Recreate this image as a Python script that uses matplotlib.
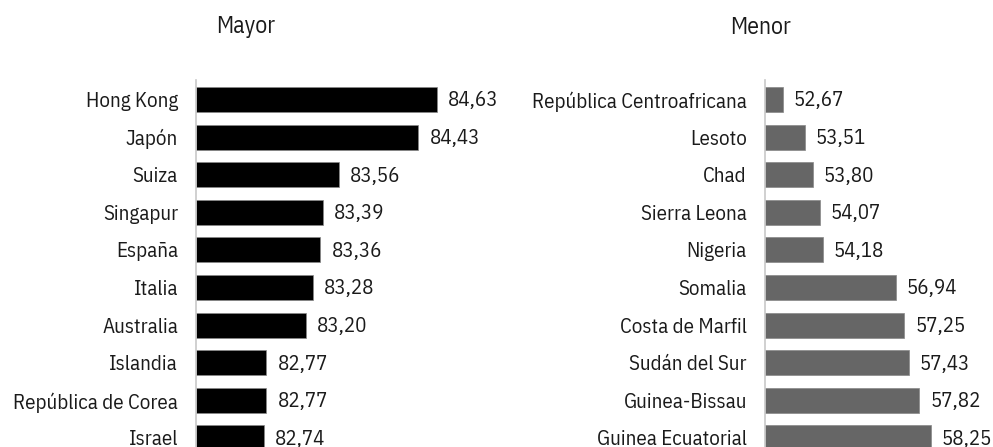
import matplotlib
matplotlib.use("Agg")
import matplotlib.pyplot as plt

plt.rcParams['font.family'] = ['IBM Plex Sans Condensed', 'DejaVu Sans']

mayor_paises = ["Hong Kong", "Japón", "Suiza", "Singapur", "España", "Italia",
                "Australia", "Islandia", "República de Corea", "Israel"]
mayor_valores = [84.63, 84.43, 83.56, 83.39, 83.36, 83.28, 83.20, 82.77, 82.77, 82.74]

menor_paises = ["República Centroafricana", "Lesoto", "Chad", "Sierra Leona", "Nigeria",
                "Somalia", "Costa de Marfil", "Sudán del Sur", "Guinea-Bissau",
                "Guinea Ecuatorial"]
menor_valores = [52.67, 53.51, 53.80, 54.07, 54.18, 56.94, 57.25, 57.43, 57.82, 58.25]

W, H = 993, 447
fig = plt.figure(figsize=(W / 100, H / 100), dpi=100)

txt = '#1a1a1a'
fs = 15


def panel(left_px, width_px, xlim, paises, valores, color, titulo, titulo_x):
    ax = fig.add_axes([left_px / W, 0, width_px / W, (H - 80) / H])
    y = range(len(paises))
    ax.barh(y, [v - xlim[0] for v in valores], left=xlim[0], height=0.665,
            color=color, edgecolor='#888888', linewidth=0.5)
    for i, v in enumerate(valores):
        ax.annotate(f"{v:.2f}".replace('.', ','), (v, i), xytext=(8, -1),
                    textcoords='offset points', va='center', ha='left',
                    fontsize=fs, color=txt)
    ax.set_xlim(*xlim)
    ax.set_ylim(len(paises) - 1 + 0.24, -0.52)
    ax.set_yticks(list(y))
    ax.set_yticklabels(paises, fontsize=fs, color=txt)
    ax.tick_params(axis='y', length=0, pad=13)
    ax.set_xticks([])
    for s in ['top', 'right', 'bottom']:
        ax.spines[s].set_visible(False)
    ax.spines['left'].set_color('#c8c8c8')
    ax.spines['left'].set_linewidth(1.2)
    fig.text(titulo_x / W, 1 - 27 / H, titulo, ha='center', va='center',
             fontsize=17, color=txt)
    return ax


panel(196, 274.5, (82, 85), mayor_paises, mayor_valores, '#000000', 'Mayor', 246)
panel(765, 212, (52, 60), menor_paises, menor_valores, '#666666', 'Menor', 760)

fig.savefig('out.png', dpi=100)
